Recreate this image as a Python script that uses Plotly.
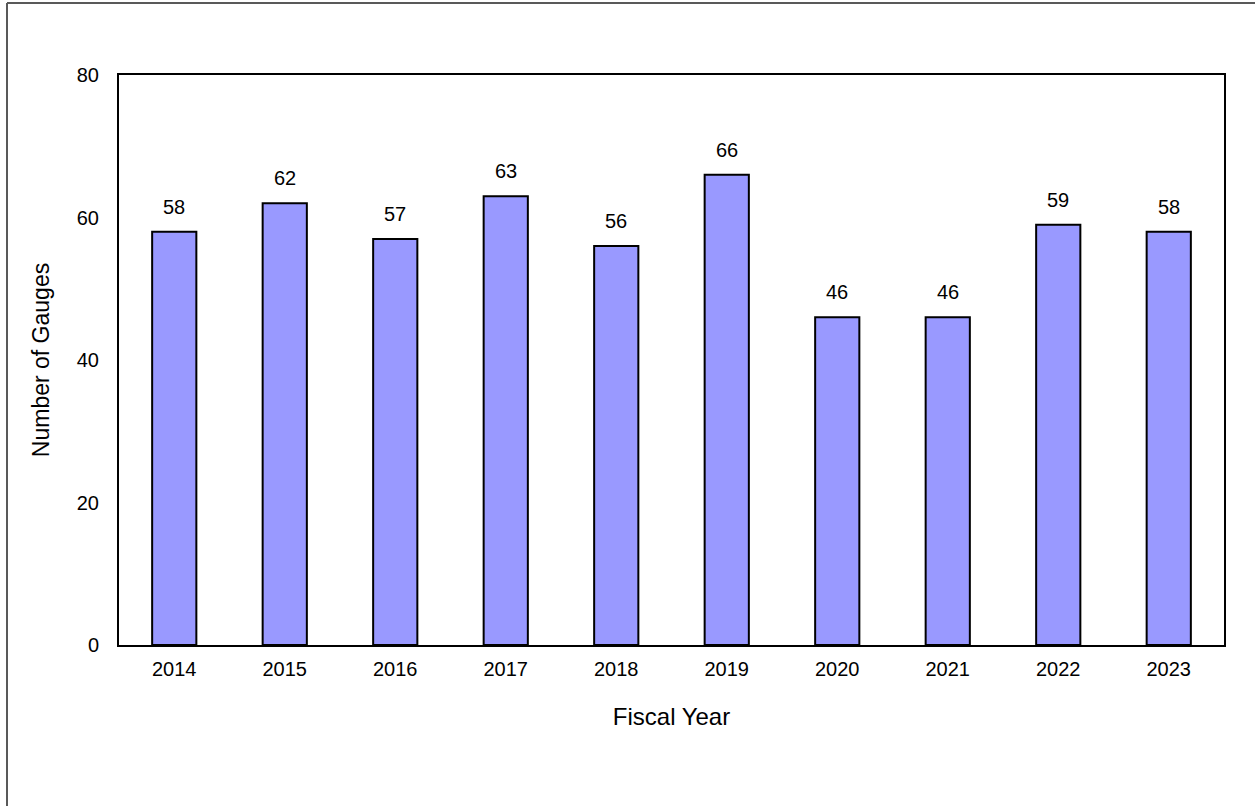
import plotly.graph_objects as go

years = ["2014", "2015", "2016", "2017", "2018", "2019", "2020", "2021", "2022", "2023"]
gauges = [58, 62, 57, 63, 56, 66, 46, 46, 59, 58]
y_ticks = [0, 20, 40, 60, 80]

W, H = 1255, 806
L, R, T, B = 119, 31, 75, 161
pw, ph = W - L - R, H - T - B
FONT = "Liberation Sans, Arial"

fig = go.Figure()
fig.add_trace(go.Bar(
    x=years, y=gauges, width=0.4,
    marker=dict(color="#9999FF", line=dict(color="black", width=2)),
    hoverinfo="x+y",
))

# category axis: annotation x given as category index
annotations = [
    dict(x=i, y=v, xref="x", yref="y", text=str(v), showarrow=False,
         yanchor="bottom", yshift=12,
         font=dict(family=FONT, size=20, color="black"))
    for i, v in enumerate(gauges)
]

fig.update_layout(
    width=W, height=H,
    margin=dict(l=L, r=R, t=T, b=B),
    paper_bgcolor="white", plot_bgcolor="white",
    font=dict(family=FONT, size=20, color="black"),
    showlegend=False,
    xaxis=dict(
        type="category", categoryorder="array", categoryarray=years,
        range=[-0.5, len(years) - 0.5],
        showline=True, linecolor="black", linewidth=2, mirror=True,
        ticks="", ticklabelstandoff=5, showgrid=False,
        title=dict(text="Fiscal Year", font=dict(size=24), standoff=29),
        tickfont=dict(size=20),
    ),
    yaxis=dict(
        range=[0, 80], tickvals=y_ticks,
        showline=True, linecolor="black", linewidth=2, mirror=True,
        ticks="", ticklabelstandoff=14, showgrid=False, zeroline=False,
        title=dict(text="Number of Gauges", font=dict(size=23), standoff=21),
        tickfont=dict(size=20),
    ),
    annotations=annotations,
    shapes=[
        dict(type="line", xref="paper", yref="paper",
             x0=(7 - L) / pw, x1=(7 - L) / pw,
             y0=1 + (T - 3) / ph, y1=-(H - T - ph) / ph - 0.01,
             line=dict(color="#595959", width=2)),
        dict(type="line", xref="paper", yref="paper",
             x0=(7 - L) / pw, x1=(W + 5 - L) / pw,
             y0=1 + (T - 3) / ph, y1=1 + (T - 3) / ph,
             line=dict(color="#595959", width=2)),
    ],
)

fig.write_html("out.html")
